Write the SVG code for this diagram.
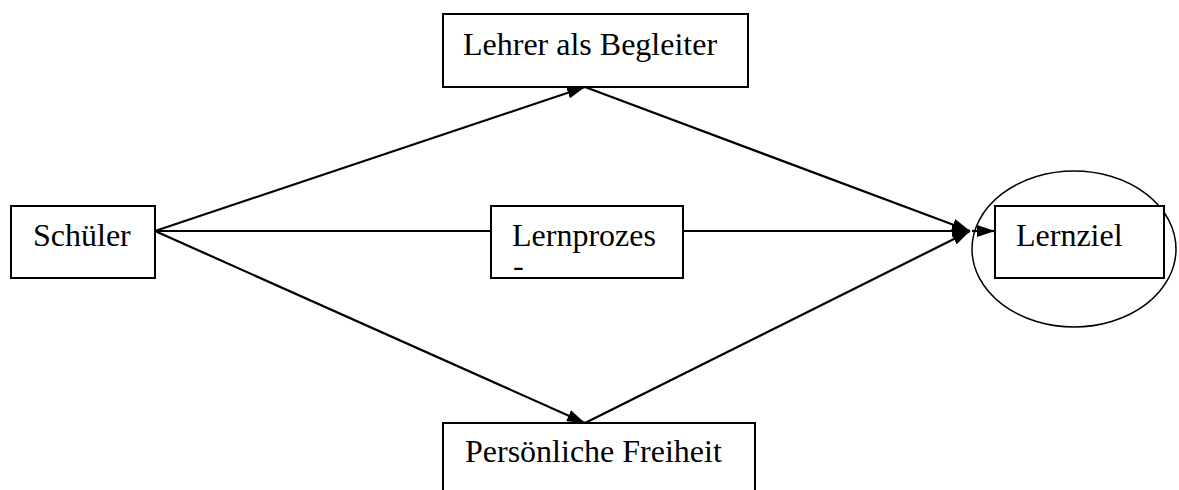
<svg xmlns="http://www.w3.org/2000/svg" width="1179" height="490" viewBox="0 0 1179 490">
<style>
.box{fill:#fff;stroke:#000;stroke-width:2}
.t{font-family:"Liberation Serif","Times New Roman",serif;font-size:32px;fill:#000}
.c{stroke:#000;stroke-width:2.2;fill:none}
</style>
<defs>
<marker id="ah" viewBox="0 0 18 12" refX="18" refY="6" markerWidth="18" markerHeight="12" markerUnits="userSpaceOnUse" orient="auto">
<path d="M0,0 L18,6 L0,12 Z" fill="#000"/>
</marker>
</defs>
<rect width="1179" height="490" fill="#fff"/>
<g id="connectors">
<line class="c" x1="155" y1="231" x2="585" y2="87" marker-end="url(#ah)"/>
<line class="c" x1="585" y1="87" x2="970" y2="231" marker-end="url(#ah)"/>
<line class="c" x1="155" y1="231" x2="491" y2="231"/>
<line class="c" x1="683" y1="231" x2="970" y2="231" marker-end="url(#ah)"/>
<line class="c" x1="155" y1="231" x2="585" y2="423" marker-end="url(#ah)"/>
<line class="c" x1="585" y1="423" x2="970" y2="231" marker-end="url(#ah)"/>
<line class="c" x1="972" y1="231" x2="995" y2="231" marker-end="url(#ah)"/>
</g>
<g id="lehrer">
<rect class="box" x="443" y="14" width="305" height="73"/>
<text class="t" x="463" y="55">Lehrer als Begleiter</text>
</g>
<g id="schueler">
<rect class="box" x="11" y="206" width="144" height="72"/>
<text class="t" x="33" y="246">Schüler</text>
</g>
<g id="lernprozes">
<rect class="box" x="491" y="206" width="192" height="72"/>
<text class="t" x="512" y="246">Lernprozes</text>
<text class="t" x="513" y="276" font-size="12">-</text>
</g>
<g id="lernziel">
<ellipse cx="1074" cy="249" rx="102" ry="78" fill="none" stroke="#000" stroke-width="1.5"/>
<rect class="box" x="995" y="206" width="169" height="72"/>
<text class="t" x="1016" y="246">Lernziel</text>
</g>
<g id="freiheit">
<rect class="box" x="443" y="423" width="312" height="80"/>
<text class="t" x="465" y="462">Persönliche Freiheit</text>
</g>
</svg>
